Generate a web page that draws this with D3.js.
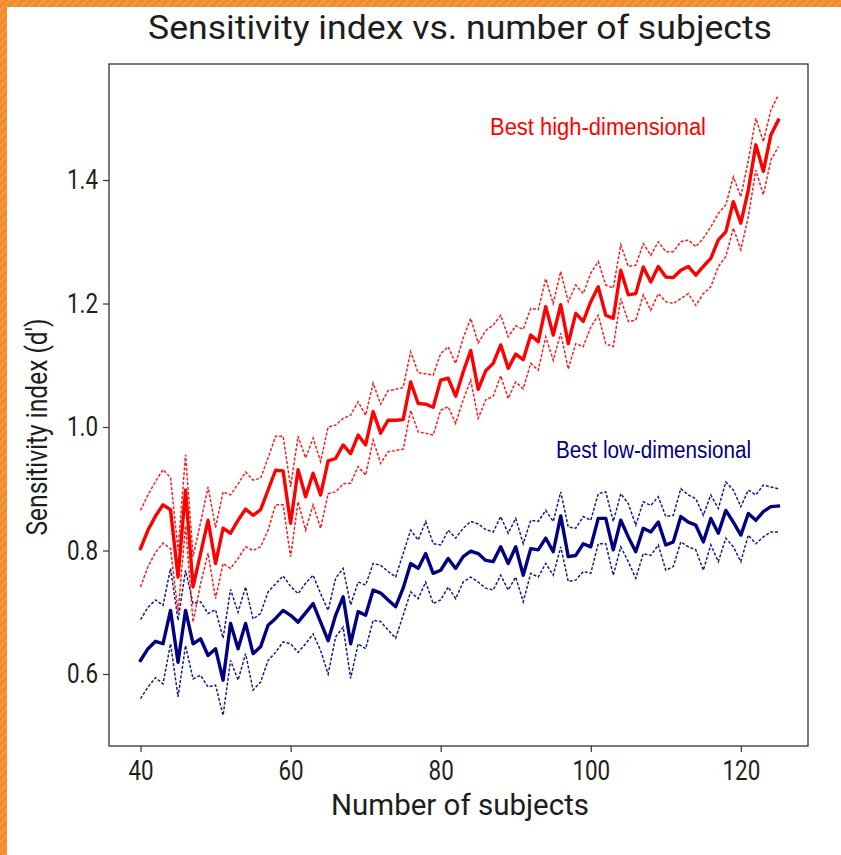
<!DOCTYPE html>
<html>
<head>
<meta charset="utf-8">
<script src="https://cdn.jsdelivr.net/npm/d3@7"></script>
<style>
  html, body { margin: 0; padding: 0; background: #fff; }
  svg { display: block; }
</style>
</head>
<body>
<svg id="chart" width="841" height="855"></svg>
<script>
// ---------- DATA ----------
const subjects = [40,41,42,43,44,45,46,47,48,49,50,51,52,53,54,55,56,57,58,59,60,61,62,63,64,65,66,67,68,69,70,71,72,73,74,75,76,77,78,79,80,81,82,83,84,85,86,87,88,89,90,91,92,93,94,95,96,97,98,99,100,101,102,103,104,105,106,107,108,109,110,111,112,113,114,115,116,117,118,119,120,121,122,123,124,125];

const highMean = [0.803,0.833,0.856,0.874,0.866,0.757,0.898,0.741,0.795,0.849,0.779,0.836,0.828,0.849,0.867,0.857,0.866,0.898,0.930,0.929,0.844,0.931,0.887,0.925,0.890,0.945,0.949,0.971,0.957,0.987,0.971,1.025,0.990,1.011,1.011,1.012,1.073,1.038,1.037,1.032,1.076,1.079,1.050,1.089,1.124,1.061,1.091,1.103,1.133,1.095,1.118,1.109,1.149,1.138,1.195,1.149,1.198,1.135,1.184,1.171,1.203,1.227,1.181,1.176,1.254,1.214,1.216,1.259,1.235,1.260,1.243,1.242,1.254,1.260,1.246,1.260,1.273,1.303,1.316,1.365,1.330,1.384,1.457,1.414,1.473,1.497];
const highUpper = [0.865,0.890,0.912,0.931,0.918,0.800,0.955,0.790,0.845,0.903,0.837,0.895,0.890,0.908,0.927,0.914,0.917,0.950,0.985,0.985,0.903,0.985,0.950,0.982,0.944,1.000,1.003,1.014,1.019,1.041,1.019,1.071,1.037,1.059,1.061,1.064,1.122,1.088,1.086,1.084,1.119,1.130,1.103,1.144,1.176,1.136,1.156,1.165,1.181,1.146,1.164,1.158,1.192,1.190,1.240,1.200,1.252,1.203,1.230,1.216,1.249,1.268,1.230,1.225,1.295,1.260,1.262,1.297,1.278,1.300,1.284,1.284,1.300,1.303,1.292,1.306,1.324,1.346,1.360,1.405,1.373,1.432,1.500,1.462,1.513,1.538];
const highLower = [0.741,0.774,0.797,0.812,0.803,0.700,0.840,0.684,0.746,0.796,0.722,0.779,0.771,0.787,0.806,0.800,0.806,0.833,0.874,0.874,0.790,0.879,0.833,0.874,0.836,0.892,0.895,0.908,0.909,0.936,0.922,0.979,0.941,0.960,0.962,0.964,1.027,0.992,0.990,0.987,1.027,1.033,1.006,1.044,1.076,1.014,1.044,1.050,1.083,1.046,1.073,1.062,1.103,1.092,1.146,1.108,1.152,1.094,1.135,1.130,1.162,1.181,1.135,1.130,1.208,1.171,1.173,1.214,1.189,1.216,1.203,1.200,1.208,1.216,1.197,1.216,1.227,1.260,1.276,1.322,1.287,1.341,1.416,1.376,1.432,1.454];

const lowMean = [0.622,0.641,0.653,0.649,0.703,0.619,0.703,0.649,0.657,0.630,0.641,0.590,0.682,0.641,0.682,0.633,0.644,0.679,0.690,0.703,0.695,0.684,0.699,0.714,0.684,0.654,0.695,0.725,0.649,0.701,0.695,0.736,0.731,0.720,0.709,0.739,0.779,0.771,0.795,0.763,0.768,0.787,0.771,0.790,0.799,0.795,0.784,0.782,0.806,0.779,0.806,0.760,0.803,0.801,0.820,0.798,0.856,0.790,0.792,0.811,0.806,0.852,0.852,0.801,0.849,0.822,0.798,0.836,0.830,0.846,0.809,0.814,0.855,0.846,0.841,0.814,0.852,0.828,0.865,0.846,0.825,0.860,0.849,0.863,0.871,0.872];
const lowUpper = [0.688,0.708,0.720,0.711,0.771,0.687,0.768,0.714,0.717,0.698,0.704,0.658,0.737,0.700,0.741,0.689,0.698,0.733,0.746,0.759,0.742,0.730,0.747,0.760,0.730,0.703,0.755,0.771,0.712,0.749,0.744,0.779,0.776,0.766,0.757,0.795,0.833,0.817,0.847,0.811,0.809,0.833,0.820,0.836,0.847,0.843,0.834,0.830,0.855,0.828,0.852,0.811,0.849,0.847,0.865,0.847,0.895,0.838,0.836,0.855,0.849,0.892,0.895,0.847,0.892,0.876,0.841,0.879,0.873,0.887,0.855,0.857,0.900,0.890,0.884,0.857,0.890,0.868,0.911,0.898,0.871,0.898,0.890,0.906,0.903,0.900];
const lowLower = [0.560,0.579,0.594,0.584,0.649,0.563,0.646,0.592,0.598,0.579,0.582,0.533,0.622,0.590,0.633,0.574,0.587,0.622,0.635,0.652,0.649,0.635,0.649,0.665,0.638,0.600,0.660,0.676,0.593,0.649,0.641,0.687,0.685,0.671,0.658,0.695,0.733,0.722,0.749,0.714,0.720,0.741,0.722,0.749,0.757,0.749,0.739,0.736,0.760,0.736,0.757,0.717,0.763,0.757,0.779,0.760,0.806,0.750,0.752,0.766,0.763,0.811,0.811,0.760,0.806,0.782,0.755,0.795,0.792,0.809,0.768,0.774,0.814,0.806,0.801,0.768,0.809,0.782,0.820,0.806,0.782,0.825,0.811,0.822,0.830,0.830];

const xTicks = [40, 60, 80, 100, 120];
const yTicks = [0.6, 0.8, 1.0, 1.2, 1.4];

const titleText = "Sensitivity index vs. number of subjects";
const xLabelText = "Number of subjects";
const yLabelText = "Sensitivity index (d')";
const highLabel = "Best high-dimensional";
const lowLabel = "Best low-dimensional";

// ---------- LAYOUT ----------
const svg = d3.select("#chart");
const W = 841, H = 855;
const frame = { left: 109, right: 808, top: 64, bottom: 746 };
const FONT = "Roboto, 'DejaVu Sans', sans-serif";
const NARROW = "'Liberation Sans Narrow', 'Liberation Sans', Arial, sans-serif";
const TEXT = "#1e1e1e";

// orange striped border
const defs = svg.append("defs");
const pat = defs.append("pattern").attr("id", "stripes")
  .attr("patternUnits", "userSpaceOnUse").attr("width", 6).attr("height", 6)
  .attr("patternTransform", "rotate(45)");
pat.append("rect").attr("width", 6).attr("height", 6).attr("fill", "#f08a2a");
pat.append("rect").attr("width", 3).attr("height", 6).attr("fill", "#f4983e");
svg.append("rect").attr("x", 0).attr("y", 0).attr("width", W).attr("height", H).attr("fill", "#fff");
svg.append("rect").attr("x", 0).attr("y", 0).attr("width", W).attr("height", 7).attr("fill", "url(#stripes)");
svg.append("rect").attr("x", 0).attr("y", 0).attr("width", 7).attr("height", H).attr("fill", "url(#stripes)");

// scales
const x = d3.scaleLinear().domain([35.8, 128.95]).range([frame.left, frame.right]);
const y = d3.scaleLinear().domain([0.4834, 1.5879]).range([frame.bottom, frame.top]);

function squeeze(sel, factor) {
  sel.each(function () {
    const L = this.getComputedTextLength();
    d3.select(this).attr("textLength", L * factor).attr("lengthAdjust", "spacingAndGlyphs");
  });
}
function fitWidth(sel, w) {
  sel.attr("textLength", w).attr("lengthAdjust", "spacingAndGlyphs");
}

// clip
defs.append("clipPath").attr("id", "plotclip").append("rect")
  .attr("x", frame.left).attr("y", frame.top)
  .attr("width", frame.right - frame.left).attr("height", frame.bottom - frame.top);

const plot = svg.append("g").attr("clip-path", "url(#plotclip)");

const line = (vals) => d3.line()
  .x((d, i) => x(subjects[i]))
  .y(d => y(d))(vals);

function drawSeries(mean, upper, lower, color) {
  [upper, lower].forEach(v => {
    plot.append("path").attr("d", line(v)).attr("fill", "none")
      .attr("stroke", color).attr("stroke-width", 1.5)
      .attr("stroke-dasharray", "3,1.8").attr("opacity", 0.9);
  });
  plot.append("path").attr("d", line(mean)).attr("fill", "none")
    .attr("stroke", color).attr("stroke-width", 3.4)
    .attr("stroke-linejoin", "round").attr("stroke-linecap", "square");
}
drawSeries(lowMean, lowUpper, lowLower, "#000080");
drawSeries(highMean, highUpper, highLower, "#ff0000");

// axes
const xAxis = svg.append("g").attr("transform", `translate(0,${frame.bottom})`)
  .call(d3.axisBottom(x).tickValues(xTicks).tickFormat(d3.format("d")).tickSizeOuter(0).tickSize(6).tickPadding(6));
const yAxis = svg.append("g").attr("transform", `translate(${frame.left},0)`)
  .call(d3.axisLeft(y).tickValues(yTicks).tickFormat(d3.format(".1f")).tickSizeOuter(0).tickSize(6).tickPadding(6));
[xAxis, yAxis].forEach(a => {
  a.select(".domain").remove();
  a.selectAll(".tick line").attr("stroke", "#333").attr("stroke-width", 1.2);
  a.selectAll(".tick text").attr("font-family", FONT).attr("font-size", 28).attr("fill", TEXT);
});
xAxis.selectAll(".tick text").attr("dy", "0.71em").attr("y", 14);
yAxis.selectAll(".tick text").attr("x", -11);
squeeze(xAxis.selectAll(".tick text"), 0.8);
squeeze(yAxis.selectAll(".tick text"), 0.8);

// frame
svg.append("rect").attr("x", frame.left).attr("y", frame.top)
  .attr("width", frame.right - frame.left).attr("height", frame.bottom - frame.top)
  .attr("fill", "none").attr("stroke", "#333").attr("stroke-width", 1.3);

// title & labels
const title = svg.append("text").attr("x", 460).attr("y", 39).attr("text-anchor", "middle")
  .attr("font-family", FONT).attr("font-size", 33).attr("fill", TEXT).text(titleText);
fitWidth(title, 624);

const xl = svg.append("text").attr("x", 460).attr("y", 815).attr("text-anchor", "middle")
  .attr("font-family", FONT).attr("font-size", 29).attr("fill", TEXT).text(xLabelText);
fitWidth(xl, 258);

const yl = svg.append("text").attr("transform", "translate(47,427) rotate(-90)").attr("text-anchor", "middle")
  .attr("font-family", FONT).attr("font-size", 29).attr("fill", TEXT).text(yLabelText);
fitWidth(yl, 217);

// annotations
const ah = svg.append("text").attr("x", 490).attr("y", 135)
  .attr("font-family", NARROW).attr("font-size", 23).attr("fill", "#ff0000").text(highLabel);
fitWidth(ah, 216);
const al = svg.append("text").attr("x", 556).attr("y", 458)
  .attr("font-family", NARROW).attr("font-size", 23).attr("fill", "#000080").text(lowLabel);
fitWidth(al, 195);
</script>
</body>
</html>
